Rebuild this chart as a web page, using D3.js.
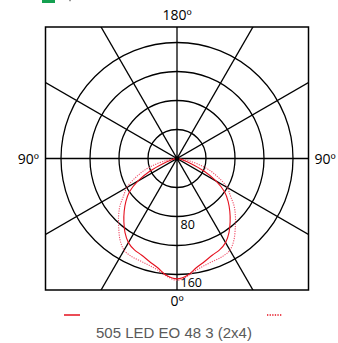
<!DOCTYPE html>
<html><head><meta charset="utf-8">
<script src="https://cdn.jsdelivr.net/npm/d3@7"></script>
<style>html,body{margin:0;padding:0;background:#fff;}svg{display:block;}</style>
</head><body><svg id="c" width="338" height="343"></svg>
<script>
// Half-plane angles (degrees from nadir), mirrored for the other side
const angles = [0,5,10,15,20,25,30,35,40,45,50,55,60,65,70,75,80,85,90];
const solidValues  = [166,162,153,147,142,139,134,125,114,103,92,80,62,41,20,9,4,1,0];
const dottedValues = [168,163,156,152,150,149,146,137,125,114,103,90,80,64,48,30,14,5,0];
const ringValues = [40,80,120,160];
const ringLabels = [80,160];
const spokeAngles = [0,30,60,90,120,150];
const axisLabels = {top:"180º", left:"90º", right:"90º", bottom:"0º"};
const title = "505 LED EO 48 3 (2x4)";

const svg = d3.select("#c");
const cx = 177, cy = 158.5;
const box = {x0:45.5, x1:308.5, y0:27, y1:290};
const r = d3.scaleLinear().domain([0,160]).range([0,116]);
const font = "'Open Sans', 'Liberation Sans', sans-serif";
const titleFont = "'Liberation Sans', Arial, sans-serif";

// top cut-off marker
svg.append("rect").attr("x",42).attr("y",0).attr("width",13).attr("height",3).attr("fill","#14a050");
svg.append("rect").attr("x",69).attr("y",0).attr("width",2).attr("height",1.2).attr("fill","#999");

const g = svg.append("g").attr("transform",`translate(${cx},${cy})`);
const clipId = "boxclip";
svg.append("clipPath").attr("id",clipId).append("rect")
  .attr("x",box.x0-cx).attr("y",box.y0-cy).attr("width",box.x1-box.x0).attr("height",box.y1-box.y0);
const grid = g.append("g").attr("clip-path",`url(#${clipId})`);

grid.selectAll("circle.ring").data(ringValues).join("circle").attr("class","ring")
  .attr("r",d=>r(d)).attr("fill","none").attr("stroke","#000").attr("stroke-width",1.3);

const L = 400;
grid.selectAll("line.spoke").data(spokeAngles).join("line").attr("class","spoke")
  .attr("x1",d=>-L*Math.sin(d*Math.PI/180)).attr("y1",d=>-L*Math.cos(d*Math.PI/180))
  .attr("x2",d=> L*Math.sin(d*Math.PI/180)).attr("y2",d=> L*Math.cos(d*Math.PI/180))
  .attr("stroke","#000").attr("stroke-width",1.3);

svg.append("rect").attr("x",box.x0).attr("y",box.y0).attr("width",box.x1-box.x0).attr("height",box.y1-box.y0)
  .attr("fill","none").attr("stroke","#000").attr("stroke-width",1.5);

function fullCurve(vals){
  const pts = [];
  for (let i=angles.length-1;i>0;i--) pts.push([-angles[i], vals[i]]);
  for (let i=0;i<angles.length;i++) pts.push([angles[i], vals[i]]);
  return pts;
}
const line = d3.lineRadial()
  .angle(d => Math.PI - d[0]*Math.PI/180)
  .radius(d => r(d[1]))
  .curve(d3.curveCatmullRom.alpha(0.5));

g.append("path").attr("d",line(fullCurve(dottedValues))).attr("fill","none")
  .attr("stroke","#f0506a").attr("stroke-width",1.1).attr("stroke-dasharray","1.2,1.2");
g.append("path").attr("d",line(fullCurve(solidValues))).attr("fill","none")
  .attr("stroke","#e5101e").attr("stroke-width",1.1);

g.append("circle").attr("r",2.2).attr("fill","#000");

g.selectAll("text.rl").data(ringLabels).join("text").attr("class","rl")
  .attr("x",3.5).attr("y",d=>r(d)+12.5).attr("font-family",font).attr("font-size",12.5)
  .attr("fill","#000").text(d=>d);

svg.append("text").attr("x",cx).attr("y",20).attr("text-anchor","middle")
  .attr("font-family",font).attr("font-size",14).text(axisLabels.top);
svg.append("text").attr("x",cx).attr("y",306).attr("text-anchor","middle")
  .attr("font-family",font).attr("font-size",14).text(axisLabels.bottom);
svg.append("text").attr("x",39).attr("y",163.5).attr("text-anchor","end")
  .attr("font-family",font).attr("font-size",14).text(axisLabels.left);
svg.append("text").attr("x",314.5).attr("y",163.5).attr("text-anchor","start")
  .attr("font-family",font).attr("font-size",14).text(axisLabels.right);

// legend
svg.append("line").attr("x1",64).attr("x2",80).attr("y1",315).attr("y2",315)
  .attr("stroke","#e5101e").attr("stroke-width",1.5);
svg.append("line").attr("x1",267).attr("x2",282).attr("y1",315).attr("y2",315)
  .attr("stroke","#e5101e").attr("stroke-width",1.5).attr("stroke-dasharray","1.3,1.3");
svg.append("text").attr("x",cx - 3).attr("y",338).attr("text-anchor","middle")
  .attr("font-family",titleFont).attr("font-size",15).attr("fill","#5a5a5a").text(title);
</script></body></html>
